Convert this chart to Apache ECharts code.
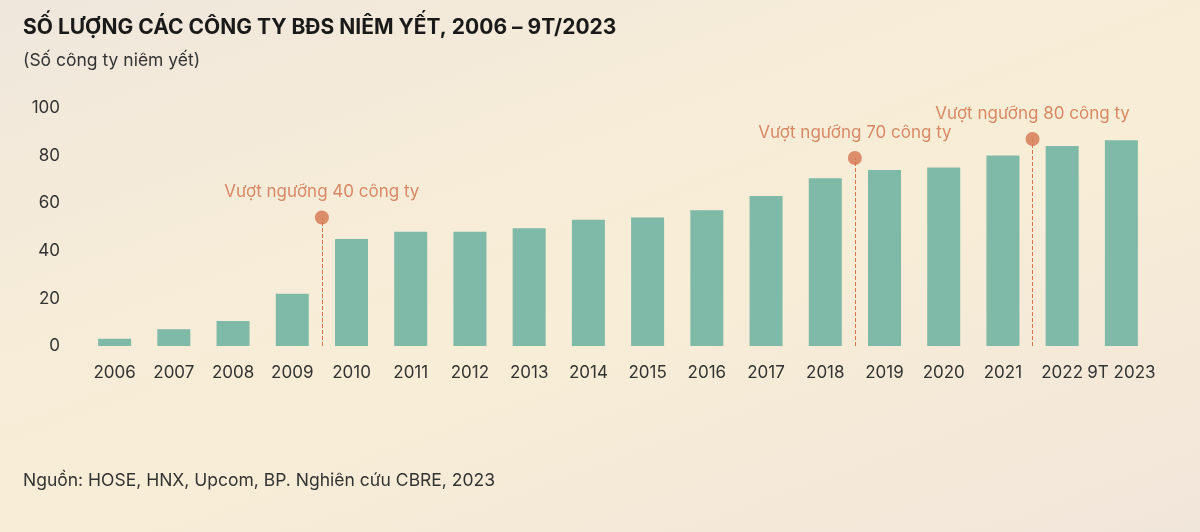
<!DOCTYPE html>
<html><head><meta charset="utf-8">
<script src="https://cdn.jsdelivr.net/npm/echarts@6/dist/echarts.min.js"></script>
<style>html,body{margin:0;padding:0}#c{width:1200px;height:532px;background:linear-gradient(160deg,#efe7dc 0%,#f6ecd8 35%,#f8edd6 55%,#f1e6da 100%)}</style>
</head><body><div id="c"></div>
<script>
const categories=['2006','2007','2008','2009','2010','2011','2012','2013','2014','2015','2016','2017','2018','2019','2020','2021','2022','9T 2023'];
const values=[3,7,10.5,22,45,48,48,49.5,53,54,57,63,70.5,74,75,80,84,86.5];
const milestonePos=[3.5,12.5,15.5];
const milestoneVal=[54,79,87];
const milestoneText=['Vượt ngưỡng 40 công ty','Vượt ngưỡng 70 công ty','Vượt ngưỡng 80 công ty'];
const F='Inter, "Noto Sans", sans-serif';
const chart=echarts.init(document.getElementById('c'));
chart.setOption({
  textStyle:{fontFamily:F},
  title:[
    {text:'SỐ LƯỢNG CÁC CÔNG TY BĐS NIÊM YẾT, 2006 – 9T/2023',left:18,top:12,textStyle:{fontSize:21,fontWeight:'bold',color:'#1a1a1a',fontFamily:F}},
    {text:'(Số công ty niêm yết)',left:18,top:47,textStyle:{fontSize:17.5,fontWeight:'normal',color:'#333',fontFamily:F}},
    {text:'Nguồn: HOSE, HNX, Upcom, BP. Nghiên cứu CBRE, 2023',left:18,top:467,textStyle:{fontSize:17.5,fontWeight:'normal',color:'#333',fontFamily:F}}
  ],
  grid:{left:85,right:49,top:108,bottom:186},
  xAxis:[
    {type:'category',data:categories,axisLine:{show:false},axisTick:{show:false},axisLabel:{interval:0,fontSize:17,color:'#333',margin:18}},
    {type:'value',min:-0.5,max:17.5,show:false}
  ],
  yAxis:{type:'value',min:0,max:100,interval:20,axisLine:{show:false},axisTick:{show:false},splitLine:{show:false},axisLabel:{fontSize:17,color:'#333',margin:25}},
  series:[
    {type:'bar',data:values,barWidth:33,itemStyle:{color:'#7fb9a8'}},
    {type:'scatter',xAxisIndex:1,symbolSize:14,itemStyle:{color:'#d5744d'},
     data:milestonePos.map((x,i)=>({value:[x,milestoneVal[i]],label:{show:true,position:'top',distance:10,formatter:milestoneText[i],fontSize:17,color:'#cf6f47'}})),
     markLine:{symbol:'none',silent:true,label:{show:false},lineStyle:{type:'dashed',color:'#d5744d',width:1},
       data:milestonePos.map((x,i)=>[{coord:[x,0]},{coord:[x,milestoneVal[i]]}])}}
  ]
});
</script></body></html>
